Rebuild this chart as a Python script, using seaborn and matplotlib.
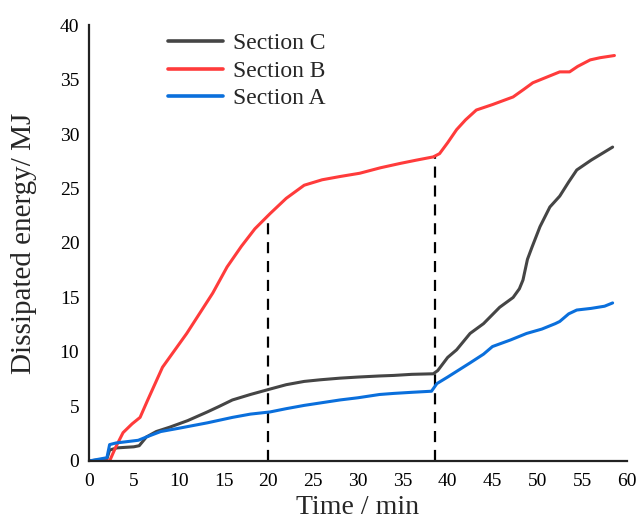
import matplotlib
matplotlib.use("Agg")
import matplotlib.pyplot as plt
import seaborn as sns
import pandas as pd
from matplotlib.ticker import MultipleLocator

sns.set_style("white")
plt.rcParams['font.family'] = ['Liberation Serif', 'DejaVu Serif']

# Section C (dark gray)
c_time = [0, 2.0, 2.3, 3.1, 5.0, 5.6, 6.4, 7.5, 9.0, 11.0, 13.2, 14.5, 16.0, 18.0, 20.2, 22.0, 24.0, 25.8, 28.0, 30.0, 32.4, 34.0, 36.0, 38.4,
          38.9, 40.0, 41.0, 42.5, 44.0, 45.8, 47.3, 48.0, 48.4, 48.9, 49.4, 50.3, 51.4, 52.5, 53.5, 54.4, 56.0, 58.4]
c_energy = [0, 0.2, 1.0, 1.2, 1.3, 1.4, 2.2, 2.7, 3.1, 3.7, 4.5, 5.0, 5.6, 6.1, 6.6, 7.0, 7.3, 7.45, 7.6, 7.7, 7.8, 7.85, 7.95, 8.0,
            8.3, 9.5, 10.2, 11.7, 12.6, 14.1, 15.0, 15.8, 16.6, 18.5, 19.6, 21.5, 23.3, 24.3, 25.6, 26.7, 27.6, 28.8]

# Section B (red)
b_time = [0, 1.8, 2.3, 3.0, 3.8, 4.8, 5.7, 6.5, 8.2, 10.9, 13.8, 15.4, 17.0, 18.5, 20.2, 22.0, 24.0, 26.0, 28.0, 30.2, 32.5, 34.7, 36.5, 38.4,
          39.1, 40.0, 41.0, 42.0, 43.2, 45.0, 47.3, 48.5, 49.5, 51.0, 52.5, 53.6, 54.5, 55.9, 57.0, 58.6]
b_energy = [0, 0, 0, 1.3, 2.6, 3.4, 4.0, 5.5, 8.6, 11.7, 15.4, 17.8, 19.7, 21.3, 22.7, 24.1, 25.3, 25.8, 26.1, 26.4, 26.9, 27.3, 27.6, 27.9,
            28.2, 29.2, 30.4, 31.3, 32.2, 32.7, 33.4, 34.1, 34.7, 35.2, 35.7, 35.7, 36.2, 36.8, 37.0, 37.2]

# Section A (blue)
a_time = [0, 2.0, 2.3, 3.0, 5.5, 6.4, 8.0, 10.0, 13.2, 16.0, 18.0, 20.2, 22.0, 24.0, 26.0, 28.0, 30.0, 32.4, 34.0, 36.0, 38.2,
          38.8, 40.0, 42.5, 44.0, 45.0, 47.0, 48.8, 50.5, 52.0, 52.5, 53.5, 54.4, 56.0, 57.5, 58.4]
a_energy = [0, 0.3, 1.5, 1.65, 1.9, 2.2, 2.7, 3.0, 3.5, 4.0, 4.3, 4.5, 4.8, 5.1, 5.35, 5.6, 5.8, 6.1, 6.2, 6.3, 6.4,
            7.1, 7.7, 9.0, 9.8, 10.5, 11.1, 11.7, 12.1, 12.6, 12.8, 13.5, 13.85, 14.0, 14.2, 14.5]

series_names = ["Section C", "Section B", "Section A"]
series_colors = ["#454545", "#ff3b3b", "#0a6fdc"]

# dashed reference lines (time, top energy)
ref_time = [20.0, 38.6]
ref_top = [22.6, 28.1]

x_ticks = list(range(0, 61, 5))
y_ticks = list(range(0, 41, 5))

frames = []
for name, t, e in zip(series_names, [c_time, b_time, a_time], [c_energy, b_energy, a_energy]):
    frames.append(pd.DataFrame({"Time": t, "Energy": e, "Series": name}))
df = pd.concat(frames, ignore_index=True)

fig = plt.figure(figsize=(6.42, 5.21), dpi=100)
ax = fig.add_axes([0.1386, 0.1152, 0.838, 0.8368])

sns.lineplot(data=df, x="Time", y="Energy", hue="Series", hue_order=series_names,
             palette=series_colors, estimator=None, sort=False, linewidth=2.2, ax=ax)

for t, top in zip(ref_time, ref_top):
    ax.plot([t, t], [0, top], color="black", linestyle=(0, (5, 3.5)), linewidth=1.6, zorder=1)

ax.set_xlim(0, 60)
ax.set_ylim(0, 40)
ax.set_xticks(x_ticks)
ax.set_yticks(y_ticks)
ax.xaxis.set_minor_locator(MultipleLocator(2.5))
ax.yaxis.set_minor_locator(MultipleLocator(2.5))
ax.tick_params(axis="both", which="major", direction="in", length=7, width=1.5, labelsize=14, colors="black")
ax.tick_params(axis="both", which="minor", direction="in", length=4, width=1.2)
ax.tick_params(axis="x", pad=9)
ax.tick_params(axis="y", pad=7)

for side in ["top", "right"]:
    ax.spines[side].set_visible(False)
for side in ["left", "bottom"]:
    ax.spines[side].set_color("#222222")
    ax.spines[side].set_linewidth(1.6)

ax.set_xlabel("Time / min", fontsize=20, labelpad=3)
ax.set_ylabel("Dissipated energy/ MJ", fontsize=21)
ax.yaxis.set_label_coords(-0.097, 0.5)

leg = fig.legend(handles=ax.get_legend_handles_labels()[0], labels=series_names,
                 loc="upper left", bbox_to_anchor=(0.262, 0.937), frameon=False, fontsize=17,
                 handlelength=2.3, handletextpad=0.45, labelspacing=0.25, borderpad=0, borderaxespad=0)
ax.get_legend().remove()
for line in leg.get_lines():
    line.set_linewidth(2.6)

fig.savefig("out.png", dpi=100)
